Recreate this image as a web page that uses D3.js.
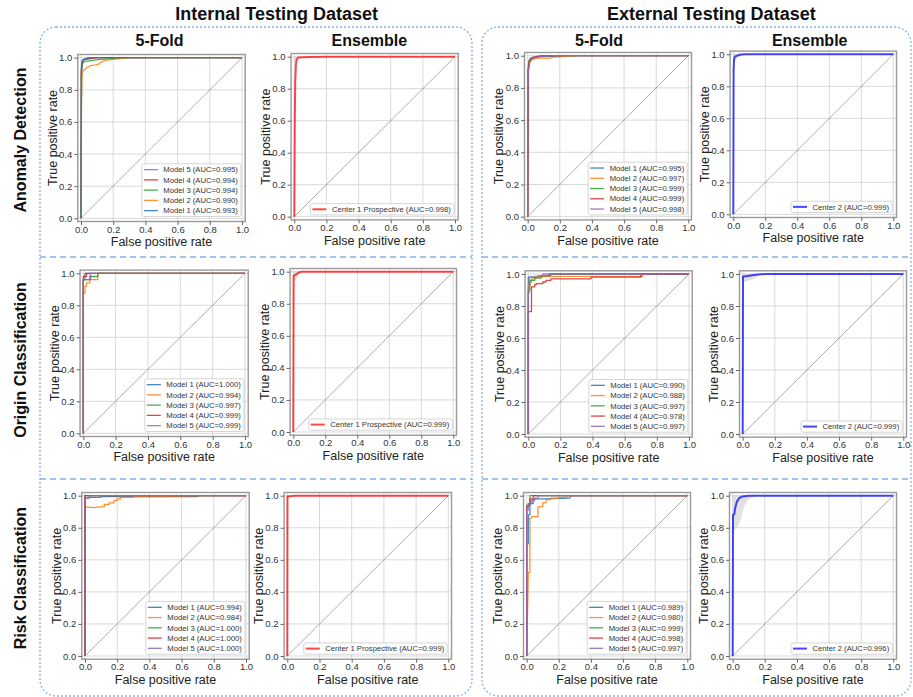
<!DOCTYPE html>
<html><head><meta charset="utf-8">
<script src="https://cdn.jsdelivr.net/npm/d3@7"></script>
<style>body{margin:0;background:#fff}svg{display:block}</style>
</head><body>
<svg id="c" width="913" height="697"></svg>
<script>
// ---------------- DATA ----------------
const columnTitles = ["Internal Testing Dataset", "External Testing Dataset"];
const subplotTitles = ["5-Fold", "Ensemble", "5-Fold", "Ensemble"];
const rowTitles = ["Anomaly Detection", "Origin Classification", "Risk Classification"];
const tickValues = [0, 0.2, 0.4, 0.6, 0.8, 1.0];
const modelNames = ["Model 1", "Model 2", "Model 3", "Model 4", "Model 5"];

// Internal / Anomaly detection, 5-fold (points are [FPR, TPR])
const intAnomalyFold = [
  [[0,0],[0.002,0.9],[0.005,0.97],[0.01,0.985],[0.02,0.99],[0.04,0.995],[0.06,1],[1,1]],
  [[0,0],[0.003,0.7],[0.006,0.88],[0.01,0.91],[0.02,0.925],[0.04,0.94],[0.06,0.95],[0.09,0.955],[0.11,0.96],[0.13,0.975],[0.16,0.985],[0.2,0.99],[0.25,0.995],[0.3,1],[1,1]],
  [[0,0],[0.003,0.9],[0.008,0.96],[0.02,0.975],[0.05,0.98],[0.08,0.985],[0.12,0.99],[0.2,0.995],[0.3,1],[1,1]],
  [[0,0],[0.003,0.92],[0.008,0.97],[0.015,0.985],[0.03,0.99],[0.06,0.995],[0.1,1],[1,1]],
  [[0,0],[0.002,0.93],[0.006,0.98],[0.015,0.99],[0.03,0.995],[0.05,1],[1,1]]
];
const intAnomalyAUC = [0.993, 0.990, 0.994, 0.994, 0.995];
const intAnomalyOrder = [4, 3, 2, 1, 0];

// Internal / Origin classification, 5-fold
const intOriginFold = [
  [[0,0],[0,0.96],[0.01,0.96],[0.01,1],[1,1]],
  [[0,0],[0,0.875],[0.01,0.875],[0.01,0.92],[0.02,0.92],[0.02,0.94],[0.04,0.94],[0.04,0.96],[0.09,0.96],[0.09,1],[1,1]],
  [[0,0],[0,0.96],[0.04,0.96],[0.04,0.98],[0.09,0.98],[0.09,1],[1,1]],
  [[0,0],[0,0.98],[0.02,0.98],[0.02,1],[1,1]],
  [[0,0],[0,0.96],[0.045,0.96],[0.045,1],[1,1]]
];
const intOriginAUC = [1.000, 0.994, 0.997, 0.999, 0.999];

// Internal / Risk classification, 5-fold
const intRiskFold = [
  [[0,0],[0,0.985],[0.02,0.985],[0.02,0.99],[0.1,0.99],[0.1,0.995],[0.7,0.995],[0.7,1],[1,1]],
  [[0,0],[0,0.93],[0.05,0.925],[0.1,0.93],[0.12,0.93],[0.12,0.945],[0.15,0.945],[0.15,0.955],[0.18,0.955],[0.18,0.97],[0.2,0.97],[0.2,0.98],[0.22,0.98],[0.22,0.99],[0.3,0.99],[0.3,0.995],[0.5,0.995],[0.7,1],[1,1]],
  [[0,0],[0,1],[1,1]],
  [[0,0],[0,1],[1,1]],
  [[0,0],[0,0.985],[0.03,0.985],[0.03,1],[1,1]]
];
const intRiskAUC = [0.994, 0.984, 1.000, 1.000, 1.000];

// External / Anomaly detection, 5-fold
const extAnomalyFold = [
  [[0,0],[0.003,0.9],[0.008,0.96],[0.015,0.98],[0.03,0.99],[0.06,0.995],[0.2,0.997],[0.25,1],[1,1]],
  [[0,0],[0.004,0.9],[0.01,0.95],[0.02,0.97],[0.04,0.98],[0.06,0.985],[0.14,0.985],[0.15,0.99],[0.22,0.995],[0.3,1],[1,1]],
  [[0,0],[0.003,0.93],[0.008,0.97],[0.02,0.985],[0.04,0.99],[0.07,0.995],[0.12,1],[1,1]],
  [[0,0],[0.003,0.9],[0.008,0.96],[0.02,0.98],[0.04,0.99],[0.06,0.995],[0.1,1],[1,1]],
  [[0,0],[0.002,0.85],[0.006,0.92],[0.012,0.96],[0.025,0.98],[0.05,0.99],[0.08,0.995],[0.15,1],[1,1]]
];
const extAnomalyAUC = [0.995, 0.997, 0.999, 0.999, 0.998];

// External / Origin classification, 5-fold
const extOriginFold = [
  [[0,0],[0,0.98],[0.02,0.98],[0.13,0.985],[0.13,1],[1,1]],
  [[0,0],[0,0.93],[0.01,0.93],[0.01,0.95],[0.02,0.95],[0.02,0.97],[0.04,0.97],[0.04,0.985],[0.71,0.985],[0.71,1],[1,1]],
  [[0,0],[0,0.9],[0.01,0.9],[0.01,0.96],[0.04,0.96],[0.04,0.975],[0.08,0.975],[0.08,0.99],[0.14,0.99],[0.14,1],[1,1]],
  [[0,0],[0,0.765],[0.02,0.765],[0.02,0.92],[0.04,0.92],[0.04,0.935],[0.05,0.935],[0.05,0.94],[0.09,0.94],[0.09,0.95],[0.11,0.95],[0.11,0.96],[0.14,0.96],[0.14,0.97],[0.39,0.97],[0.39,0.98],[0.7,0.98],[0.7,1],[1,1]],
  [[0,0],[0,0.88],[0.005,0.88],[0.005,0.98],[0.06,0.98],[0.06,0.99],[0.09,0.99],[0.09,1],[1,1]]
];
const extOriginAUC = [0.990, 0.988, 0.997, 0.978, 0.997];

// External / Risk classification, 5-fold
const extRiskFold = [
  [[0,0],[0,0.7],[0.01,0.7],[0.01,0.88],[0.02,0.88],[0.02,0.95],[0.04,0.95],[0.04,0.98],[0.1,0.98],[0.27,0.985],[0.27,1],[1,1]],
  [[0,0],[0.01,0.52],[0.02,0.52],[0.02,0.86],[0.03,0.86],[0.03,0.87],[0.07,0.87],[0.07,0.93],[0.1,0.93],[0.1,0.955],[0.12,0.955],[0.12,0.975],[0.15,0.975],[0.15,0.985],[0.2,0.985],[0.2,0.99],[0.25,0.99],[0.25,1],[1,1]],
  [[0,0],[0,0.94],[0.02,0.94],[0.02,1],[1,1]],
  [[0,0],[0,0.93],[0.01,0.93],[0.01,0.95],[0.02,0.95],[0.02,0.98],[0.04,0.98],[0.04,1],[1,1]],
  [[0,0],[0,0.91],[0.01,0.91],[0.01,0.95],[0.03,0.95],[0.03,0.97],[0.05,0.97],[0.05,0.985],[0.07,0.985],[0.07,1],[1,1]]
];
const extRiskAUC = [0.989, 0.980, 0.999, 0.998, 0.997];

// Ensemble curves [FPR, TPR] and confidence bands [FPR, low, high]
const intAnomalyEns = [[0,0],[0.003,0.6],[0.006,0.85],[0.01,0.95],[0.015,0.985],[0.025,0.995],[0.1,0.998],[0.2,1],[1,1]];
const intAnomalyBand = [[0,0.96,1],[0.02,0.985,1],[0.05,0.995,1],[0.1,1,1]];
const intOriginEns = [[0,0],[0.002,0.975],[0.02,0.985],[0.035,0.995],[0.05,1],[1,1]];
const intOriginBand = [[0,0.93,1],[0.02,0.955,1],[0.04,0.99,1],[0.06,1,1]];
const intRiskEns = [[0,0],[0.001,0.995],[0.05,1],[1,1]];
const intRiskBand = [[0,0.99,1],[0.03,0.995,1],[0.06,1,1]];
const extAnomalyEns = [[0,0],[0.002,0.9],[0.005,0.97],[0.01,0.985],[0.02,0.99],[0.04,0.997],[0.07,1],[1,1]];
const extAnomalyBand = [[0,0.95,1],[0.02,0.97,1],[0.05,0.99,1],[0.08,1,1]];
const extOriginEns = [[0,0],[0.002,0.985],[0.03,0.988],[0.08,0.995],[0.14,1],[1,1]];
const extOriginBand = [[0,0.95,1],[0.03,0.955,1],[0.07,0.97,1],[0.12,1,1]];
const extRiskEns = [[0,0],[0.002,0.88],[0.01,0.885],[0.015,0.92],[0.025,0.96],[0.04,0.985],[0.06,0.995],[0.1,1],[1,1]];
const extRiskBand = [[0,0.78,1],[0.03,0.8,1],[0.05,0.85,1],[0.07,0.93,1],[0.1,0.98,1],[0.15,1,1]];

const ensembleLabels = [
  "Center 1 Prospective (AUC=0.998)", "Center 2 (AUC=0.999)",
  "Center 1 Prospective (AUC=0.999)", "Center 2 (AUC=0.999)",
  "Center 1 Prospective (AUC=0.999)", "Center 2 (AUC=0.996)"
];

// ---------------- STYLE / LAYOUT ----------------
const foldColors = ["#1f77b4", "#ff7f0e", "#2ca02c", "#d62728", "#9467bd"];
const ensColors = ["#ff0000", "#0000ff"];
const FONT = "'Liberation Sans', Arial, sans-serif";
// plot positions: [x at 0, x at 1, y at 1, y at 0]
const plotPos = [
  [[81,242,57.7,218.3],[294.3,455,56.7,216.7],[527.7,688.3,55.7,216.7],[733.3,893.3,54.3,214.3]],
  [[83.3,245,273.3,433.3],[293.3,453.3,271.7,432],[528.3,689,274,434],[742.7,903.3,274,434]],
  [[85,246,495.7,656],[287.3,448.3,495.7,656],[526.7,687.3,495.7,656],[732.7,893.3,495.7,656]]
];

const svg = d3.select("#c");

// Panels
const panels = [{x:40,y:27,w:432,h:669},{x:482,y:27,w:429,h:669}];
panels.forEach(p => {
  svg.append("rect").attr("x",p.x).attr("y",p.y).attr("width",p.w).attr("height",p.h)
    .attr("rx",16).attr("fill","none").attr("stroke","#86b2e6").attr("stroke-width",1.3)
    .attr("stroke-dasharray","2,2");
  [257,479].forEach(yy => {
    svg.append("line").attr("x1",p.x).attr("x2",p.x+p.w).attr("y1",yy).attr("y2",yy)
      .attr("stroke","#86b2e6").attr("stroke-width",1.5).attr("stroke-dasharray","6,4");
  });
});

// Titles
[276.7, 711.3].forEach((cx,i) => {
  svg.append("text").attr("x",cx).attr("y",20).attr("text-anchor","middle")
    .attr("font-family",FONT).attr("font-weight","bold").attr("font-size",18).attr("fill","#111")
    .text(columnTitles[i]);
});
[159.5, 369.4, 599, 809.7].forEach((cx,i) => {
  svg.append("text").attr("x",cx).attr("y",46).attr("text-anchor","middle")
    .attr("font-family",FONT).attr("font-weight","bold").attr("font-size",16).attr("fill","#111")
    .text(subplotTitles[i]);
});
[140, 360, 578].forEach((cy,i) => {
  svg.append("text").attr("transform",`translate(26,${cy}) rotate(-90)`).attr("text-anchor","middle")
    .attr("font-family",FONT).attr("font-weight","bold").attr("font-size",16).attr("fill","#111")
    .text(rowTitles[i]);
});

const lineGen = (x,y) => d3.line().x(d=>x(d[0])).y(d=>y(d[1]));

function drawPlot(pos, cfg) {
  const [a0,a1,b1,b0] = pos;
  const x = d3.scaleLinear().domain([0,1]).range([a0,a1]);
  const y = d3.scaleLinear().domain([0,1]).range([b0,b1]);
  const L = x(-0.02), R = x(1.02), T = y(1.02), B = y(-0.02);
  const g = svg.append("g");
  // grid
  tickValues.forEach(t => {
    g.append("line").attr("x1",x(t)).attr("x2",x(t)).attr("y1",T).attr("y2",B)
      .attr("stroke","#d9d9d9").attr("stroke-width",1);
    g.append("line").attr("y1",y(t)).attr("y2",y(t)).attr("x1",L).attr("x2",R)
      .attr("stroke","#d9d9d9").attr("stroke-width",1);
  });
  // band
  if (cfg.band) {
    g.append("path").datum(cfg.band)
      .attr("d", d3.area().x(d=>x(d[0])).y0(d=>y(d[1])).y1(d=>y(d[2])))
      .attr("fill","#c8c8c8").attr("opacity",0.55);
  }
  // diagonal
  g.append("line").attr("x1",x(0)).attr("y1",y(0)).attr("x2",x(1)).attr("y2",y(1))
    .attr("stroke","#555").attr("stroke-width",0.6).attr("opacity",0.8);
  // curves
  cfg.series.forEach(s => {
    g.append("path").datum(s.pts).attr("d", lineGen(x,y)).attr("fill","none")
      .attr("stroke",s.color).attr("stroke-width",s.width).attr("opacity",s.opacity)
      .attr("stroke-linejoin","round");
  });
  // spines
  g.append("rect").attr("x",L).attr("y",T).attr("width",R-L).attr("height",B-T)
    .attr("fill","none").attr("stroke","#9a9a9a").attr("stroke-width",1.4);
  // axes
  const xa = g.append("g").attr("transform",`translate(0,${B})`)
    .call(d3.axisBottom(x).tickValues(tickValues).tickFormat(d3.format(".1f")).tickSize(3.5).tickPadding(0.8));
  const ya = g.append("g").attr("transform",`translate(${L},0)`)
    .call(d3.axisLeft(y).tickValues(tickValues).tickFormat(d3.format(".1f")).tickSize(3.5).tickPadding(2));
  [xa,ya].forEach(ax => {
    ax.select(".domain").remove();
    ax.selectAll("line").attr("stroke","#666");
    ax.selectAll("text").attr("font-family",FONT).attr("font-size",9.5).attr("fill","#333");
  });
  g.append("text").attr("x",(a0+a1)/2).attr("y",B+24.6).attr("text-anchor","middle")
    .attr("font-family",FONT).attr("font-size",12.5).attr("fill","#222").text("False positive rate");
  g.append("text").attr("transform",`translate(${L-21},${(T+B)/2}) rotate(-90)`).attr("text-anchor","middle")
    .attr("font-family",FONT).attr("font-size",12.5).attr("fill","#222").text("True positive rate");
  // legend
  const rowH = 10.25, fs = 7.7;
  const lg = g.append("g");
  const texts = cfg.legend.map((e,i) => lg.append("text").attr("font-family",FONT).attr("font-size",fs)
    .attr("fill","#333").text(e.label));
  const tw = d3.max(texts, t => t.node().getComputedTextLength());
  const w = 2 + 14 + 5.5 + tw + 3;
  const h = cfg.legend.length * rowH + (cfg.legend.length === 1 ? 1 : 1.5);
  const lx = R - 4.3 - w, ly = B - 5 - h;
  lg.insert("rect",":first-child").attr("x",lx).attr("y",ly).attr("width",w).attr("height",h).attr("rx",2)
    .attr("fill","#fff").attr("fill-opacity",0.85).attr("stroke","#cccccc").attr("stroke-width",0.8);
  cfg.legend.forEach((e,i) => {
    const cy = ly + h/2 + (i - (cfg.legend.length-1)/2) * rowH;
    lg.append("line").attr("x1",lx+2).attr("x2",lx+16).attr("y1",cy).attr("y2",cy)
      .attr("stroke",e.color).attr("stroke-width",e.width).attr("opacity",e.opacity);
    texts[i].attr("x",lx+21.5).attr("y",cy).attr("dy","0.35em");
  });
}

const foldSets = [
  [intAnomalyFold, intAnomalyAUC, intAnomalyOrder, extAnomalyFold, extAnomalyAUC],
  [intOriginFold, intOriginAUC, [0,1,2,3,4], extOriginFold, extOriginAUC],
  [intRiskFold, intRiskAUC, [0,1,2,3,4], extRiskFold, extRiskAUC]
];
const ensSets = [
  [intAnomalyEns, intAnomalyBand, extAnomalyEns, extAnomalyBand],
  [intOriginEns, intOriginBand, extOriginEns, extOriginBand],
  [intRiskEns, intRiskBand, extRiskEns, extRiskBand]
];

function foldCfg(curves, aucs, order) {
  const items = order.map(i => ({pts: curves[i], color: foldColors[i], width: 1.3, opacity: 0.85,
    label: `${modelNames[i]} (AUC=${aucs[i].toFixed(3)})`}));
  return {series: items, legend: items};
}
function ensCfg(curve, band, color, label) {
  const item = {pts: curve, color: color, width: 2, opacity: 0.72, label: label};
  return {series: [item], legend: [item], band: band};
}

for (let r = 0; r < 3; r++) {
  const [ic, ia, io, ec, ea] = foldSets[r];
  const [ie, ib, ee, eb] = ensSets[r];
  drawPlot(plotPos[r][0], foldCfg(ic, ia, io));
  drawPlot(plotPos[r][1], ensCfg(ie, ib, ensColors[0], ensembleLabels[r*2]));
  drawPlot(plotPos[r][2], foldCfg(ec, ea, [0,1,2,3,4]));
  drawPlot(plotPos[r][3], ensCfg(ee, eb, ensColors[1], ensembleLabels[r*2+1]));
}
</script>
</body></html>
